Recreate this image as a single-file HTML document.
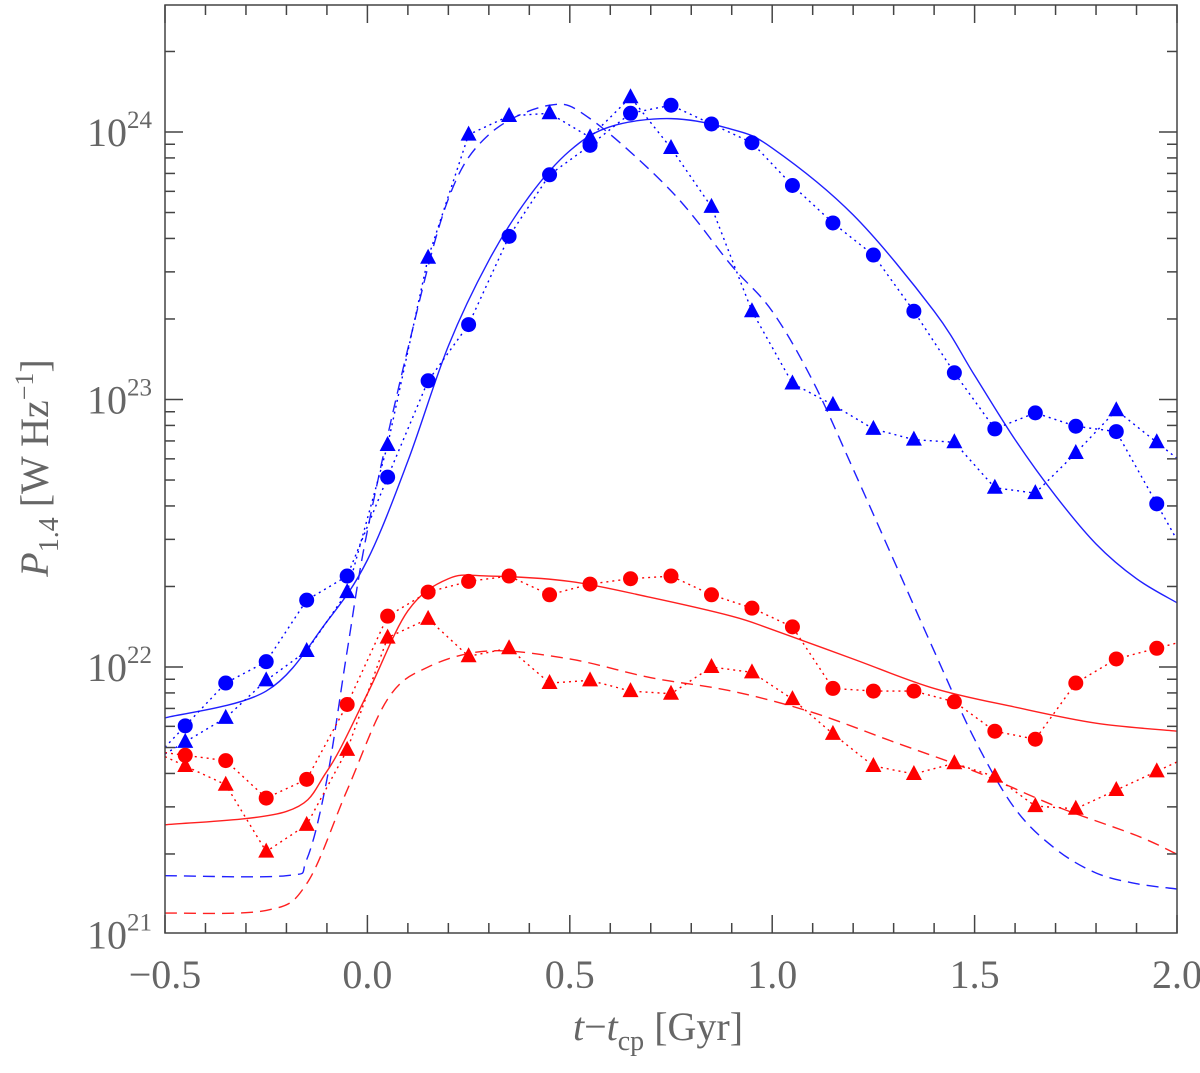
<!DOCTYPE html>
<html><head><meta charset="utf-8"><style>
html,body{margin:0;padding:0;background:#fff;overflow:hidden}
svg{display:block}
svg text{font-family:"Liberation Serif",serif;fill:#666}
</style></head><body>
<svg id="chart" width="1200" height="1073" xmlns="http://www.w3.org/2000/svg">
<text x="658" y="1040" font-size="40" text-anchor="middle"><tspan font-style="italic">t</tspan>−<tspan font-style="italic">t</tspan><tspan dy="10" font-size="28">cp</tspan><tspan dy="-10"> [Gyr]</tspan></text>
<text transform="translate(48,468) rotate(-90)" font-size="40" text-anchor="middle"><tspan font-style="italic">P</tspan><tspan dy="10" font-size="28">1.4</tspan><tspan dy="-10"> [W Hz</tspan><tspan dy="-15" font-size="26">−1</tspan><tspan dy="15">]</tspan></text>
</svg>
<script>
const xTicks=[-0.5,0.0,0.5,1.0,1.5,2.0];
const xTickLabels=["\u22120.5","0.0","0.5","1.0","1.5","2.0"];
const yDecades=[21,22,23,24];
const tPts=[-0.45,-0.35,-0.25,-0.15,-0.05,0.05,0.15,0.25,0.35,0.45,0.55,0.65,0.75,0.85,0.95,1.05,1.15,1.25,1.35,1.45,1.55,1.65,1.75,1.85,1.95];
const blueCircles=[21.78,21.94,22.02,22.25,22.34,22.71,23.07,23.28,23.61,23.84,23.95,24.07,24.10,24.03,23.96,23.80,23.66,23.54,23.33,23.10,22.89,22.95,22.90,22.88,22.61];
const blueTriangles=[21.72,21.81,21.95,22.06,22.28,22.83,23.53,23.99,24.06,24.07,23.98,24.13,23.94,23.72,23.33,23.06,22.98,22.89,22.85,22.84,22.67,22.65,22.80,22.96,22.84];
const redCircles=[21.67,21.65,21.51,21.58,21.86,22.19,22.28,22.32,22.34,22.27,22.31,22.33,22.34,22.27,22.22,22.15,21.92,21.91,21.91,21.87,21.76,21.73,21.94,22.03,22.07];
const redTriangles=[21.63,21.56,21.31,21.41,21.69,22.11,22.18,22.04,22.07,21.94,21.95,21.91,21.90,22.00,21.98,21.88,21.75,21.63,21.60,21.64,21.59,21.48,21.47,21.54,21.61];
const fitBlueSolidT=[-0.5,-0.25,-0.1,0,0.1,0.2,0.3,0.4,0.5,0.6,0.75,0.9,1.0,1.2,1.4,1.5,1.6,1.7,1.8,1.9,2.0];
const fitBlueSolid=[21.81,21.91,22.17,22.40,22.77,23.20,23.52,23.76,23.93,24.02,24.05,24.01,23.94,23.69,23.33,23.09,22.85,22.64,22.46,22.33,22.24];
const fitBlueDashT=[-0.5,-0.2,-0.15,-0.1,-0.05,0,0.1,0.2,0.3,0.45,0.55,0.75,0.9,1.0,1.1,1.2,1.3,1.4,1.5,1.6,1.7,1.8,1.9,2.0];
const fitBlueDash=[21.22,21.22,21.28,21.58,22.06,22.51,23.19,23.75,23.99,24.10,24.05,23.78,23.50,23.33,23.07,22.74,22.40,22.06,21.73,21.47,21.32,21.23,21.19,21.17];
const fitRedSolidT=[-0.5,-0.2,-0.1,0,0.1,0.2,0.3,0.5,0.7,0.9,1.0,1.2,1.4,1.6,1.8,2.0];
const fitRedSolid=[21.41,21.46,21.61,21.90,22.21,22.33,22.34,22.32,22.26,22.19,22.14,22.03,21.92,21.85,21.79,21.76];
const fitRedDashT=[-0.5,-0.25,-0.15,-0.05,0.05,0.15,0.3,0.5,0.7,0.9,1.1,1.3,1.5,1.7,1.9,2.0];
const fitRedDash=[21.08,21.09,21.19,21.54,21.88,22.00,22.06,22.03,21.96,21.91,21.83,21.72,21.61,21.48,21.37,21.30];

const L=165,R=1177,T=5,B=933;
const X=v=>L+(v+0.5)/2.5*(R-L);
const Y=lg=>132+(24-lg)*267.5;
const NS="http://www.w3.org/2000/svg";
const svg=document.getElementById('chart');
function mk(tag,at,parent){const e=document.createElementNS(NS,tag);for(const k in at)e.setAttribute(k,at[k]);(parent||svg).appendChild(e);return e;}
const clipDef=mk('defs',{});const cp=mk('clipPath',{id:'pc'},clipDef);mk('rect',{x:L,y:T,width:R-L,height:B-T},cp);
const plot=mk('g',{'clip-path':'url(#pc)'});



function smooth(xs,ys){const p=xs.map((x,i)=>[X(x),Y(ys[i])]);let d='M'+p[0][0]+','+p[0][1];
for(let i=0;i<p.length-1;i++){const p0=p[i-1]||p[i],p1=p[i],p2=p[i+1],p3=p[i+2]||p2;
d+=` C${p1[0]+(p2[0]-p0[0])/6},${p1[1]+(p2[1]-p0[1])/6} ${p2[0]-(p3[0]-p1[0])/6},${p2[1]-(p3[1]-p1[1])/6} ${p2[0]},${p2[1]}`;}return d;}
function curve(xs,ys,col,dash,name){const e=mk('path',{d:smooth(xs,ys),fill:'none',stroke:col,'stroke-width':1.4,'stroke-dasharray':dash},plot);

}
curve(fitBlueSolidT,fitBlueSolid,'#2020ff','none','fit-blue-solid');
curve(fitBlueDashT,fitBlueDash,'#2020ff','12,7','fit-blue-dashed');
curve(fitRedSolidT,fitRedSolid,'#ff2020','none','fit-red-solid');
curve(fitRedDashT,fitRedDash,'#ff2020','12,7','fit-red-dashed');

function series(vals,col,shape,name){
const ext=[-0.5].concat(tPts).concat([2.0]);
const ev=[vals[0]-(vals[1]-vals[0])/2].concat(vals).concat([vals[vals.length-1]+(vals[vals.length-1]-vals[vals.length-2])/2]);
const ln=mk('polyline',{points:ext.map((t,i)=>X(t)+','+Y(ev[i])).join(' '),fill:'none',stroke:col,'stroke-width':1.4,'stroke-dasharray':'2,4'},plot);


tPts.forEach((t,i)=>{const x=X(t),y=Y(vals[i]);let m;
if(shape==='c')m=mk('circle',{cx:x,cy:y,r:7.5,fill:col},plot);
else m=mk('polygon',{points:`${x},${y-9} ${x-8},${y+6} ${x+8},${y+6}`,fill:col},plot);

});}
series(blueCircles,'#0000ff','c','blue-circles');
series(blueTriangles,'#0000ff','t','blue-triangles');
series(redCircles,'#ff0000','c','red-circles');
series(redTriangles,'#ff0000','t','red-triangles');

const ax=mk('g',{stroke:'#444','stroke-width':1.5,fill:'none'});


mk('rect',{x:L,y:T,width:R-L,height:B-T},ax);
for(let k=0;k<=25;k++){const v=-0.5+k*0.1,x=X(v),len=k%5===0?18:10;
mk('line',{x1:x,y1:B,x2:x,y2:B-len},ax);mk('line',{x1:x,y1:T,x2:x,y2:T+len},ax);}
for(let d=21;d<=24;d++)for(let m=1;m<=9;m++){const lg=d+Math.log10(m),y=Y(lg);if(y<T||y>B+1)continue;const len=m===1?18:10;
mk('line',{x1:L,y1:y,x2:L+len,y2:y},ax);mk('line',{x1:R,y1:y,x2:R-len,y2:y},ax);}
xTicks.forEach((v,i)=>{const t=mk('text',{x:X(v),y:988,'font-size':40,'text-anchor':'middle'});t.textContent=xTickLabels[i];

});
yDecades.forEach(d=>{const t=mk('text',{x:152,y:Y(d)+14,'font-size':40,'text-anchor':'end'});
t.innerHTML='10<tspan dy="-18" font-size="25">'+d+'</tspan>';

});
</script>
</body></html>
